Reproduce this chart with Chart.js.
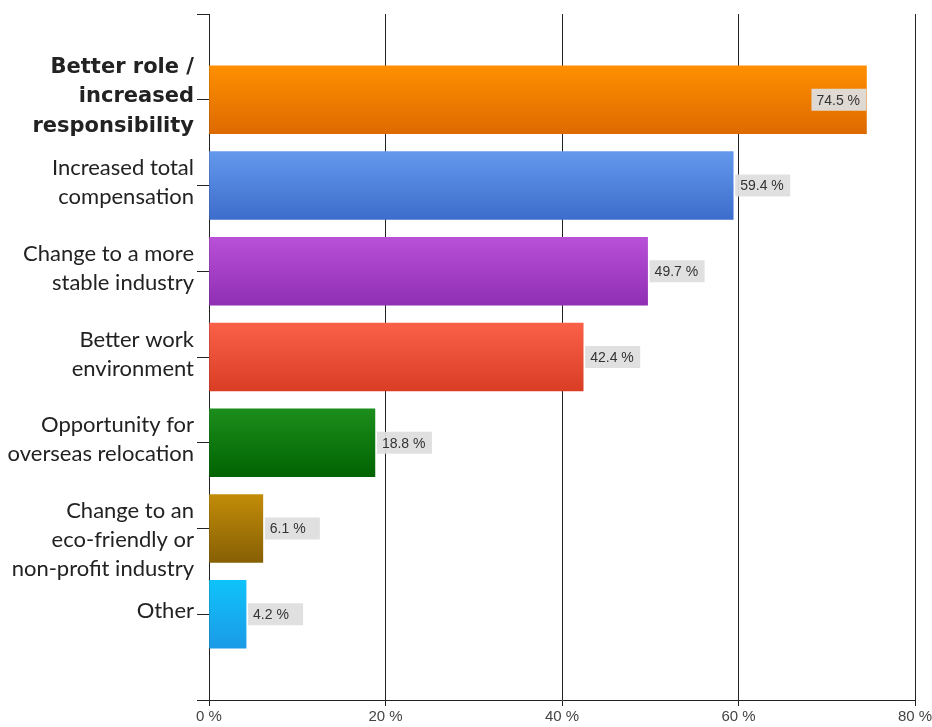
<!DOCTYPE html>
<html>
<head>
<meta charset="utf-8">
<script src="https://cdn.jsdelivr.net/npm/chart.js@4"></script>
<style>
    body { margin: 0; background: #fff; }
    #grafico { display: block; }
</style>
</head>
<body>
<canvas id="grafico" width="932" height="727"></canvas>
<script>
// Categorias (una lista de lineas por etiqueta; la linea vacia baja el texto)
const categorias = [
    ["Better role /", "increased", "responsibility"],
    ["Increased total", "compensation"],
    ["Change to a more", "stable industry"],
    ["Better work", "environment"],
    ["Opportunity for", "overseas relocation"],
    ["", "Change to an", "eco-friendly or", "non-profit industry"],
    ["Other"]
];
const porcentajes = [74.5, 59.4, 49.7, 42.4, 18.8, 6.1, 4.2];
const ticksX = [0, 20, 40, 60, 80];

// Degradado de cada barra: [arriba, abajo]
const coloresBarras = [
    ["#ff8f00", "#dd6a00"],
    ["#6399ec", "#3d6dcc"],
    ["#b950d8", "#8f2fb3"],
    ["#fa5f48", "#d93e25"],
    ["#1c8e1c", "#016301"],
    ["#c28c08", "#876005"],
    ["#0fc3fa", "#1b9ae6"]
];

// Hueco vacio arriba y abajo, como en el eje original
const etiquetas = ["", ...categorias, ""];
const datos = [null, ...porcentajes, null];

function colorBarra(ctx) {
    const chart = ctx.chart;
    if (!chart.chartArea || ctx.dataIndex < 1 || ctx.dataIndex > porcentajes.length) return "#999";
    const par = coloresBarras[ctx.dataIndex - 1];
    const yc = chart.scales.y.getPixelForValue(ctx.dataIndex);
    const g = chart.ctx.createLinearGradient(0, yc - 34, 0, yc + 34);
    g.addColorStop(0, par[0]);
    g.addColorStop(1, par[1]);
    return g;
}

// Cajas grises con el valor al final de cada barra
const etiquetasValor = {
    id: "etiquetasValor",
    afterDatasetsDraw(chart) {
        const ctx = chart.ctx;
        const area = chart.chartArea;
        const meta = chart.getDatasetMeta(0);
        ctx.save();
        ctx.font = "14px 'Liberation Sans', Arial, sans-serif";
        ctx.textBaseline = "middle";
        meta.data.forEach((bar, i) => {
            const v = datos[i];
            if (v === null) return;
            const texto = v.toFixed(1) + " %";
            const ancho = 55, alto = 22;
            let x = bar.x + 2;
            if (x + ancho > area.right) x = bar.x - ancho;
            const y = bar.y - alto / 2;
            ctx.fillStyle = "rgba(222, 222, 222, 0.95)";
            ctx.fillRect(x, y, ancho, alto);
            ctx.fillStyle = "#333";
            ctx.fillText(texto, x + 5, bar.y + 1);
        });
        ctx.restore();
    }
};

new Chart(document.getElementById("grafico"), {
    type: "bar",
    data: {
        labels: etiquetas,
        datasets: [{
            data: datos,
            backgroundColor: colorBarra,
            barThickness: 68,
            borderWidth: 0
        }]
    },
    options: {
        indexAxis: "y",
        responsive: false,
        animation: false,
        layout: { padding: { top: 14, right: 17, left: 0, bottom: 0 } },
        plugins: {
            legend: { display: false },
            tooltip: { enabled: false }
        },
        scales: {
            x: {
                min: 0,
                max: 80,
                afterBuildTicks: (scale) => { scale.ticks = ticksX.map(v => ({ value: v })); },
                afterFit: (scale) => {
                    scale.height = 27;
                    scale.paddingLeft = 0;
                    scale.paddingRight = 0;
                },
                border: { color: "#222", width: 1 },
                grid: { color: "#222", lineWidth: 1, tickLength: 6 },
                ticks: {
                    padding: 2,
                    color: "#444",
                    font: { family: "'Liberation Sans', Arial, sans-serif", size: 15 },
                    callback: (v) => v + " %"
                }
            },
            y: {
                offset: false,
                afterFit: (scale) => {
                    scale.width = 209;
                    scale.paddingTop = 0;
                    scale.paddingBottom = 0;
                },
                border: { color: "#222", width: 1 },
                grid: { offset: false, drawOnChartArea: false, color: "#222", tickLength: 12 },
                ticks: {
                    padding: 3,
                    labelOffset: -3,
                    color: "#222",
                    autoSkip: false,
                    font: (c) => c.index === 1
                        ? { family: "'DejaVu Sans', sans-serif", size: 21, weight: "bold", lineHeight: "29.5px" }
                        : { family: "Lato, sans-serif", size: 22, lineHeight: "29px" }
                }
            }
        }
    },
    plugins: [etiquetasValor]
});
</script>
</body>
</html>
